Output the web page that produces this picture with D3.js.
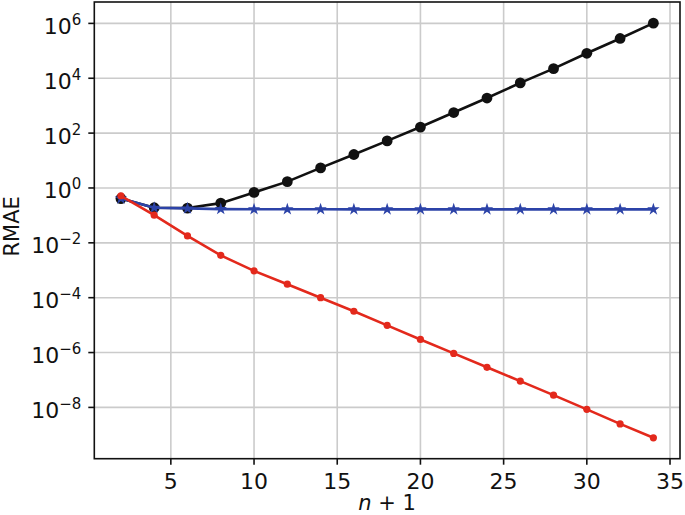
<!DOCTYPE html>
<html>
<head>
<meta charset="utf-8">
<script src="https://cdn.jsdelivr.net/npm/d3@7"></script>
<style>
  body { margin: 0; background: #fff; }
  svg { font-family: "DejaVu Sans", sans-serif; }
</style>
</head>
<body>
<div id="chart"></div>
<script>
// n + 1 values
const nValues = [2, 4, 6, 8, 10, 12, 14, 16, 18, 20, 22, 24, 26, 28, 30, 32, 34];

// black series (circles), diverging
const blackValues = [0.41, 0.19, 0.185, 0.28, 0.69, 1.7, 5.4, 16.6, 52, 166, 562, 1900,
  6760, 22400, 81300, 282000, 1.02e6];

// blue series (stars), flat
const blueValues = [0.41, 0.19, 0.18, 0.17, 0.168, 0.167, 0.167, 0.166, 0.166, 0.166,
  0.166, 0.166, 0.166, 0.166, 0.166, 0.166, 0.166];

// red series (small dots), converging
const redValues = [0.52, 0.102, 0.0178, 3.5e-3, 9.5e-4, 3.1e-4, 1.0e-4, 3.2e-5, 9.8e-6,
  3.0e-6, 9.3e-7, 2.9e-7, 9.1e-8, 2.8e-8, 8.5e-9, 2.5e-9, 7.8e-10];

const xTicks = [5, 10, 15, 20, 25, 30, 35];
const yExponents = [-8, -6, -4, -2, 0, 2, 4, 6];

const W = 685, H = 515;
const margin = {top: 2, right: 5, bottom: 56.3, left: 94.3};

const svg = d3.select("#chart").append("svg")
  .attr("width", W)
  .attr("height", H);

const x = d3.scaleLinear()
  .domain([0.4, 35.6])
  .range([margin.left, W - margin.right]);

const y = d3.scaleLog()
  .domain([Math.pow(10, -9.87), Math.pow(10, 6.78)])
  .range([H - margin.bottom, margin.top]);

// grid
svg.append("g").selectAll("line")
  .data(xTicks)
  .enter().append("line")
  .attr("x1", d => x(d)).attr("x2", d => x(d))
  .attr("y1", margin.top).attr("y2", H - margin.bottom)
  .attr("stroke", "#cbcbcb").attr("stroke-width", 1.6);

svg.append("g").selectAll("line")
  .data(yExponents)
  .enter().append("line")
  .attr("x1", margin.left).attr("x2", W - margin.right)
  .attr("y1", d => y(Math.pow(10, d))).attr("y2", d => y(Math.pow(10, d)))
  .attr("stroke", "#cbcbcb").attr("stroke-width", 1.6);

// lines
const line = d3.line()
  .x((d, i) => x(nValues[i]))
  .y(d => y(d));

// black
svg.append("path")
  .datum(blackValues)
  .attr("d", line)
  .attr("fill", "none")
  .attr("stroke", "#111")
  .attr("stroke-width", 2.6);

svg.append("g").selectAll("circle")
  .data(blackValues)
  .enter().append("circle")
  .attr("cx", (d, i) => x(nValues[i]))
  .attr("cy", d => y(d))
  .attr("r", 5.4)
  .attr("fill", "#111");

// blue
svg.append("path")
  .datum(blueValues)
  .attr("d", line)
  .attr("fill", "none")
  .attr("stroke", "#2c43a8")
  .attr("stroke-width", 2.6);

const star = d3.symbol().type(d3.symbolStar).size(48);
svg.append("g").selectAll("path")
  .data(blueValues)
  .enter().append("path")
  .attr("d", star)
  .attr("transform", (d, i) => `translate(${x(nValues[i])},${y(d)})`)
  .attr("fill", "#2c43a8");

// red
svg.append("path")
  .datum(redValues)
  .attr("d", line)
  .attr("fill", "none")
  .attr("stroke", "#e3291c")
  .attr("stroke-width", 2.6);

svg.append("g").selectAll("circle")
  .data(redValues)
  .enter().append("circle")
  .attr("cx", (d, i) => x(nValues[i]))
  .attr("cy", d => y(d))
  .attr("r", 3.6)
  .attr("fill", "#e3291c");

// frame
svg.append("rect")
  .attr("x", margin.left).attr("y", margin.top)
  .attr("width", W - margin.right - margin.left)
  .attr("height", H - margin.bottom - margin.top)
  .attr("fill", "none")
  .attr("stroke", "#111")
  .attr("stroke-width", 1.6);

// x axis ticks + labels
const xAxis = svg.append("g");
xAxis.selectAll("line")
  .data(xTicks)
  .enter().append("line")
  .attr("x1", d => x(d)).attr("x2", d => x(d))
  .attr("y1", H - margin.bottom).attr("y2", H - margin.bottom + 6)
  .attr("stroke", "#111").attr("stroke-width", 1.6);
xAxis.selectAll("text")
  .data(xTicks)
  .enter().append("text")
  .attr("x", d => x(d))
  .attr("y", H - margin.bottom + 30.5)
  .attr("text-anchor", "middle")
  .attr("font-size", 22)
  .attr("fill", "#111")
  .text(d => d);

// y axis ticks + labels
const yAxis = svg.append("g");
yAxis.selectAll("line")
  .data(yExponents)
  .enter().append("line")
  .attr("x1", margin.left - 6).attr("x2", margin.left)
  .attr("y1", d => y(Math.pow(10, d))).attr("y2", d => y(Math.pow(10, d)))
  .attr("stroke", "#111").attr("stroke-width", 1.6);
const yLabels = yAxis.selectAll("text")
  .data(yExponents)
  .enter().append("text")
  .attr("x", margin.left - 13)
  .attr("y", d => y(Math.pow(10, d)) + 10.5)
  .attr("text-anchor", "end")
  .attr("font-size", 22)
  .attr("fill", "#111");
yLabels.append("tspan").text("10");
yLabels.append("tspan")
  .attr("dy", -9)
  .attr("font-size", 15)
  .text(d => d < 0 ? "\u2212" + Math.abs(d) : d);

// axis titles
svg.append("text")
  .attr("transform", `translate(19,${(margin.top + H - margin.bottom) / 2 - 4}) rotate(-90)`)
  .attr("text-anchor", "middle")
  .attr("font-size", 21)
  .attr("fill", "#111")
  .text("RMAE");

const xt = svg.append("text")
  .attr("x", (margin.left + W - margin.right) / 2)
  .attr("y", H - 5)
  .attr("text-anchor", "middle")
  .attr("font-size", 21)
  .attr("fill", "#111");
xt.append("tspan").attr("font-style", "italic").text("n");
xt.append("tspan").text(" + 1");
</script>
</body>
</html>
